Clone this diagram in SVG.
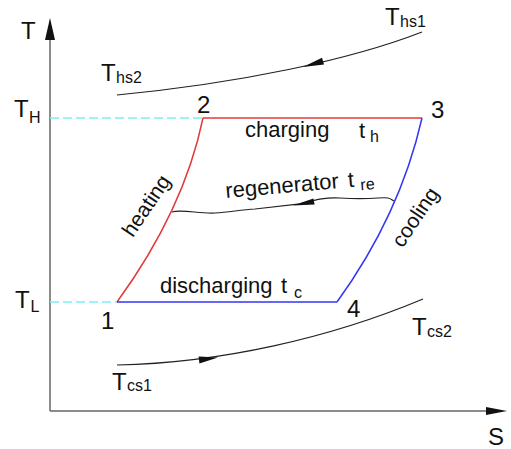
<svg xmlns="http://www.w3.org/2000/svg" width="511" height="449" viewBox="0 0 511 449">
<style>
text{font-family:"Liberation Sans",Arial,sans-serif;fill:#111}
.big{font-size:24px}
.lab{font-size:22px}
.sub{font-size:16px}
.axis{stroke:#666;stroke-width:1.5;fill:none}
.curve{stroke:#222;stroke-width:1.2;fill:none}
.red{stroke:#e23a3a;stroke-width:1.5;fill:none}
.blue{stroke:#3535f5;stroke-width:1.5;fill:none}
.dash{stroke:#7eeef6;stroke-width:1.5;stroke-dasharray:9 4;fill:none}
.head{fill:#111;stroke:none}
</style>
<rect width="511" height="449" fill="#fff"/>
<g id="axes">
<line class="axis" x1="50" y1="38" x2="50" y2="411"/>
<line class="axis" x1="50" y1="411" x2="488" y2="411"/>
<polygon class="head" points="50,18 45,40 55,40"/>
<polygon class="head" points="507,411 486,407 486,415"/>
<text class="big" x="21" y="39">T</text>
<text class="big" x="488" y="445">S</text>
</g>
<g id="connectors">
<line class="dash" x1="50" y1="118" x2="203" y2="118"/>
<line class="dash" x1="50" y1="302" x2="117" y2="302"/>
<path class="curve" d="M422,32 C350,60 240,83 117,95"/>
<polygon class="head" points="303,67 324,64.4 322,57.7"/>
<path class="curve" d="M117,365 C220,363 330,338 423,299"/>
<polygon class="head" points="218,357.5 199.4,363.5 198.6,356.5"/>
<path class="curve" d="M172,212 C182,209 200,214 215,213 S240,210 255,209 L300,203.8 C315,200 325,197 340,198 S365,199 378,198 S390,199 394,201"/>
<polygon class="head" points="293,205.5 314.6,204.4 313.4,198.6"/>
</g>
<g id="cycle">
<line class="red" x1="203" y1="118" x2="422" y2="118"/>
<path class="red" d="M203,118 Q184,210 117,302"/>
<line class="blue" x1="117" y1="302" x2="337" y2="302"/>
<path class="blue" d="M422,118 Q400,215 337,302"/>
</g>
<g id="node-1"><text class="big" x="101" y="329">1</text></g>
<g id="node-2"><text class="big" x="197" y="113">2</text></g>
<g id="node-3"><text class="big" x="431" y="118">3</text></g>
<g id="node-4"><text class="big" x="347" y="317">4</text></g>
<g id="label-TH"><text class="big" x="14" y="117">T</text><text class="sub" x="29" y="123">H</text></g>
<g id="label-TL"><text class="big" x="15" y="308">T</text><text class="sub" x="30.5" y="312">L</text></g>
<g id="label-Ths1"><text class="big" x="385" y="25">T</text><text class="sub" x="400" y="27">hs1</text></g>
<g id="label-Ths2"><text class="big" x="101" y="81">T</text><text class="sub" x="116" y="83">hs2</text></g>
<g id="label-Tcs1"><text class="big" x="112" y="390">T</text><text class="sub" x="127" y="391">cs1</text></g>
<g id="label-Tcs2"><text class="big" x="412" y="335">T</text><text class="sub" x="427" y="337">cs2</text></g>
<g id="label-charging"><text class="lab" x="245" y="137">charging</text><text class="lab" x="359" y="138">t</text><text class="sub" x="370" y="142">h</text></g>
<g id="label-discharging"><text class="lab" x="160" y="293">discharging</text><text class="lab" x="281" y="293">t</text><text class="sub" x="294" y="298">c</text></g>
<g id="label-regenerator"><text class="lab" transform="translate(226,198) rotate(-5)"><tspan x="0" y="0">regenerator</tspan><tspan x="123" y="0">t</tspan><tspan class="sub" x="135" y="4">re</tspan></text></g>
<g id="label-heating"><text class="lab" style="font-size:21px" text-anchor="middle" transform="translate(147.5,206.5) rotate(-56)" x="0" y="5.5">heating</text></g>
<g id="label-cooling"><text class="lab" style="font-size:21px" text-anchor="middle" transform="translate(416.5,218) rotate(-56)" x="0" y="5.5">cooling</text></g>
</svg>
